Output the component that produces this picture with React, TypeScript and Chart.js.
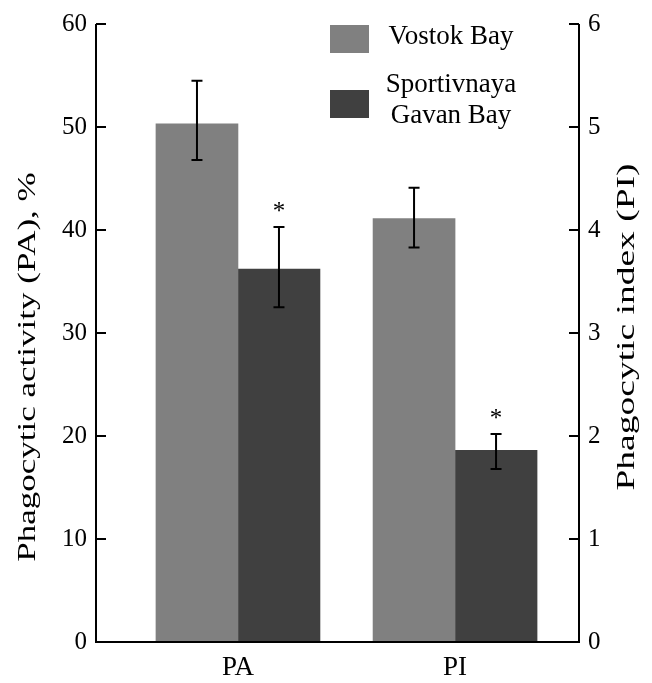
import React, { useEffect, useRef } from 'react';
import { Chart, registerables } from 'chart.js';

Chart.register(...registerables);

// ---- data ----
const categories = ['PA', 'PI'];
const categoryPositions = [1, 2];
const seriesNames = ['Vostok Bay', 'Sportivnaya Gavan Bay'];
const legendLines = [['Vostok Bay'], ['Sportivnaya', 'Gavan Bay']];
const seriesColors = ['#808080', '#404040'];

// Phagocytic activity (PA), % — left axis
const paMeans = [50.3, 36.2];
const paLower = [46.8, 32.5];
const paUpper = [54.5, 40.3];

// Phagocytic index (PI) — right axis
const piMeans = [4.11, 1.86];
const piLower = [3.83, 1.68];
const piUpper = [4.41, 2.02];

// significance marks (*) per series
const significant = [false, true];

const leftTicks = [0, 10, 20, 30, 40, 50, 60];
const rightTicks = [0, 1, 2, 3, 4, 5, 6];

const leftTitle = 'Phagocytic activity (PA), %';
const rightTitle = 'Phagocytic index (PI)';

const FONT = "'Liberation Serif', 'Times New Roman', serif";
const FS = 25;

const overlayPlugin = {
  id: 'overlay',
  afterDatasetsDraw(chart: any) {
    const ctx = chart.ctx as CanvasRenderingContext2D;
    const { left, right, top, bottom } = chart.chartArea;
    const yL = chart.scales.y;
    const yR = chart.scales.y1;
    ctx.save();
    ctx.strokeStyle = '#000';
    ctx.lineWidth = 2;
    ctx.lineJoin = 'miter';
    ctx.lineCap = 'butt';

    // error bars
    chart.data.datasets.forEach((ds: any, i: number) => {
      const meta = chart.getDatasetMeta(i);
      const sc = chart.scales[ds.yAxisID];
      meta.data.forEach((bar: any, j: number) => {
        const lo = sc.getPixelForValue(ds.errLow[j]);
        const hi = sc.getPixelForValue(ds.errHigh[j]);
        const x = bar.x;
        ctx.beginPath();
        ctx.moveTo(x, lo);
        ctx.lineTo(x, hi);
        ctx.moveTo(x - 5.5, lo);
        ctx.lineTo(x + 5.5, lo);
        ctx.moveTo(x - 5.5, hi);
        ctx.lineTo(x + 5.5, hi);
        ctx.stroke();
        if (ds.sig) {
          ctx.fillStyle = '#000';
          ctx.font = `${FS}px ${FONT}`;
          ctx.textAlign = 'center';
          ctx.textBaseline = 'alphabetic';
          ctx.fillText('*', x, hi - 8);
        }
      });
    });

    // frame
    ctx.beginPath();
    ctx.moveTo(left, top);
    ctx.lineTo(left, bottom);
    ctx.lineTo(right, bottom);
    ctx.lineTo(right, top);
    leftTicks.forEach((v) => {
      const p = yL.getPixelForValue(v);
      ctx.moveTo(left, p);
      ctx.lineTo(left + 10, p);
    });
    rightTicks.forEach((v) => {
      const p = yR.getPixelForValue(v);
      ctx.moveTo(right, p);
      ctx.lineTo(right - 10, p);
    });
    ctx.stroke();

    // legend
    ctx.font = `27px ${FONT}`;
    ctx.textAlign = 'center';
    ctx.textBaseline = 'middle';
    const boxX = 330;
    const boxTops = [25, 90];
    legendLines.forEach((lines, s) => {
      ctx.fillStyle = seriesColors[s];
      ctx.fillRect(boxX, boxTops[s], 39, 28);
      ctx.fillStyle = '#000';
      const cy = boxTops[s] + 14 - (lines.length > 1 ? 4 : 2);
      const lh = 31;
      lines.forEach((t, k) => {
        ctx.fillText(t, 451, cy + (k - (lines.length - 1) / 2) * lh);
      });
    });

    // axis titles
    ctx.fillStyle = '#000';
    ctx.font = `${FS}px ${FONT}`;
    ctx.textAlign = 'center';
    ctx.textBaseline = 'middle';
    ctx.save();
    ctx.translate(28, 367);
    ctx.rotate(-Math.PI / 2);
    ctx.scale(1.4, 1);
    ctx.fillText(leftTitle, 0, 0);
    ctx.restore();
    ctx.save();
    ctx.translate(627, 327);
    ctx.rotate(-Math.PI / 2);
    ctx.scale(1.5, 1);
    ctx.fillText(rightTitle, 0, 0);
    ctx.restore();

    ctx.restore();
  },
};

export default function App() {
  const ref = useRef<HTMLCanvasElement | null>(null);
  useEffect(() => {
    document.body.style.margin = '0';
    if (!ref.current) return;
    const datasets: any[] = [];
    seriesNames.forEach((name, s) => {
      datasets.push({
        label: name,
        data: [{ x: categoryPositions[0], y: paMeans[s] }],
        errLow: [paLower[s]],
        errHigh: [paUpper[s]],
        sig: significant[s],
        yAxisID: 'y',
        stack: 's' + s,
        backgroundColor: seriesColors[s],
        borderWidth: 0,
      });
    });
    seriesNames.forEach((name, s) => {
      datasets.push({
        label: name,
        data: [{ x: categoryPositions[1], y: piMeans[s] }],
        errLow: [piLower[s]],
        errHigh: [piUpper[s]],
        sig: significant[s],
        yAxisID: 'y1',
        stack: 's' + s,
        backgroundColor: seriesColors[s],
        borderWidth: 0,
      });
    });

    const chart = new Chart(ref.current, {
      type: 'bar',
      data: { datasets },
      plugins: [overlayPlugin],
      options: {
        responsive: false,
        animation: false,
        layout: { padding: { top: 17, left: 0, right: 0, bottom: 0 } },
        datasets: { bar: { barThickness: 82 } },
        plugins: { legend: { display: false }, tooltip: { enabled: false } },
        scales: {
          x: {
            type: 'linear',
            offset: false,
            min: 0.346,
            max: 2.571,
            grid: { display: false, drawTicks: false, offset: false },
            border: { display: false },
            afterBuildTicks: (scale: any) => {
              scale.ticks = categoryPositions.map((v) => ({ value: v }));
            },
            afterFit: (scale: any) => {
              scale.height = 41;
            },
            ticks: {
              padding: 10,
              color: '#000',
              font: { family: FONT, size: 27 },
              callback: (v: any) => {
                const i = categoryPositions.indexOf(Number(v));
                return i >= 0 ? categories[i] : '';
              },
            },
          },
          y: {
            type: 'linear',
            position: 'left',
            min: 0,
            max: 60,
            grid: { display: false, drawTicks: false },
            border: { display: false },
            afterBuildTicks: (scale: any) => {
              scale.ticks = leftTicks.map((v) => ({ value: v }));
            },
            afterFit: (scale: any) => {
              scale.width = 96;
            },
            ticks: {
              padding: 9,
              color: '#000',
              font: { family: FONT, size: FS },
            },
          },
          y1: {
            type: 'linear',
            position: 'right',
            min: 0,
            max: 6,
            grid: { display: false, drawTicks: false },
            border: { display: false },
            afterBuildTicks: (scale: any) => {
              scale.ticks = rightTicks.map((v) => ({ value: v }));
            },
            afterFit: (scale: any) => {
              scale.width = 73;
            },
            ticks: {
              padding: 9,
              color: '#000',
              font: { family: FONT, size: FS },
            },
          },
        },
      } as any,
    });
    return () => chart.destroy();
  }, []);

  return (
    <div style={{ width: 652, height: 683 }}>
      <canvas ref={ref} width={652} height={683} />
    </div>
  );
}
